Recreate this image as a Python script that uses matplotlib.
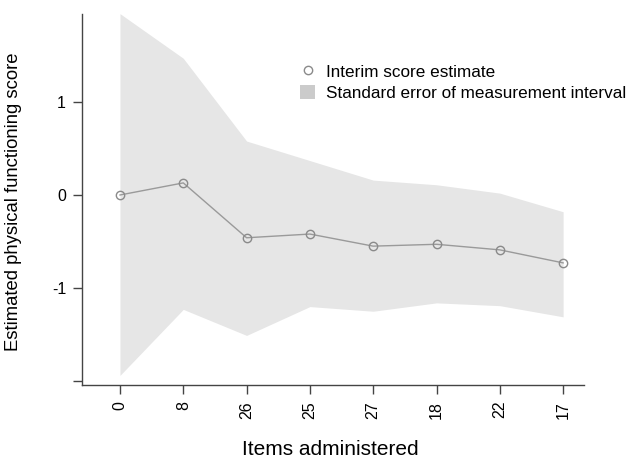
import matplotlib.pyplot as plt
from matplotlib.lines import Line2D
from matplotlib.patches import Patch

plt.rcParams['font.family'] = ['Liberation Sans', 'DejaVu Sans']

# --- Data ---
items = ['0', '8', '26', '25', '27', '18', '22', '17']
estimate = [0.00, 0.13, -0.46, -0.42, -0.55, -0.53, -0.59, -0.73]
upper = [1.95, 1.47, 0.58, 0.37, 0.16, 0.11, 0.02, -0.18]
lower = [-1.94, -1.23, -1.51, -1.20, -1.25, -1.16, -1.19, -1.31]

x = list(range(len(items)))

fig = plt.figure(figsize=(6.29, 4.59), dpi=100)
ax = fig.add_axes([82 / 629, 1 - 385 / 459, (584 - 82) / 629, (385 - 14) / 459])

# --- SEM band and interim estimates ---
ax.fill_between(x, lower, upper, color='#e6e6e6', linewidth=0)
ax.plot(x, estimate, color='#9a9a9a', linewidth=1.0, marker='o',
        markersize=6, markerfacecolor='none', markeredgecolor='#8a8a8a',
        markeredgewidth=1.0)

ax.set_xlim(-0.6, 7.33)
ax.set_ylim(-2.043, 1.946)
ax.set_xticks(x)
ax.set_xticklabels(items, rotation=90, fontsize=11.5)
ax.set_yticks([-2, -1, 0, 1])
ax.set_yticklabels(['', '-1', '0', '1'], fontsize=11.5)
ax.tick_params(length=6.5, width=1, color='#444444', pad=5)

for side in ('top', 'right'):
    ax.spines[side].set_visible(False)
for side in ('left', 'bottom'):
    ax.spines[side].set_color('#444444')
    ax.spines[side].set_linewidth(1)

ax.set_xlabel('Items administered', fontsize=15)
ax.xaxis.set_label_coords(330 / 629, 1 - 440 / 459, transform=fig.transFigure)
ax.set_ylabel('Estimated physical functioning score', fontsize=13.3)
ax.yaxis.set_label_coords(22 / 629, 1 - 202 / 459, transform=fig.transFigure)

# --- Legend ---
handles = [
    Line2D([], [], linestyle='none', marker='o', markersize=6,
           markerfacecolor='none', markeredgecolor='#8a8a8a'),
    Patch(facecolor='#cbcbcb', edgecolor='none'),
]
labels = ['Interim score estimate', 'Standard error of measurement interval']
fig.legend(handles, labels, loc='upper left',
           bbox_to_anchor=(300 / 629, 1 - 64 / 459), frameon=False,
           fontsize=12.3, borderpad=0, borderaxespad=0, handlelength=0.9,
           handleheight=0.9, handletextpad=0.6, labelspacing=0.3)

fig.savefig('out.png', dpi=100)
